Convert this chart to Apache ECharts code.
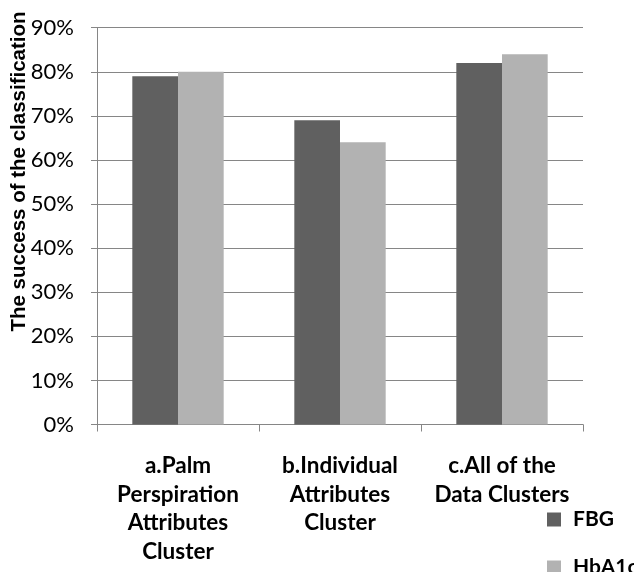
<!DOCTYPE html>
<html><head><meta charset="utf-8">
<script src="https://cdn.jsdelivr.net/npm/echarts@6/dist/echarts.min.js"></script>
<style>html,body{margin:0;padding:0;background:#fff}#c{width:634px;height:572px}</style>
</head><body><div id="c"></div>
<script>
const categories = ["a.Palm\nPerspiration\nAttributes\nCluster", "b.Individual\nAttributes\nCluster", "c.All of the\nData Clusters"];
const seriesNames = ["FBG", "HbA1c"];
const fbgValues = [79, 69, 82];
const hba1cValues = [80, 64, 84];
const yAxisTitle = "The success of the classification";

const chart = echarts.init(document.getElementById('c'));
const axisGray = '#868686';
const legendText = { fontFamily: 'Lato', fontWeight: 'bold', fontSize: 21, color: '#000', padding: [0,0,0,7] };
chart.setOption({
  animation: false,
  backgroundColor: '#fff',
  grid: { left: 97, right: 51, top: 27.7, bottom: 147.5, outerBoundsMode: 'none', containLabel: false },
  legend: [
    { orient: 'vertical', left: 547, top: 509, padding: 0, icon: 'rect', itemWidth: 14, itemHeight: 14,
      textStyle: legendText, data: [seriesNames[0]] },
    { orient: 'vertical', left: 547, top: 557, padding: 0, icon: 'rect', itemWidth: 14, itemHeight: 14,
      textStyle: legendText, data: [seriesNames[1]] }
  ],
  graphic: [{
    type: 'text', x: 9, y: 171.5, rotation: Math.PI / 2,
    style: { text: yAxisTitle, font: 'bold 20.5px "Liberation Sans"', fill: '#000', align: 'center', verticalAlign: 'top' }
  }],
  xAxis: {
    type: 'category', data: categories,
    axisLine: { lineStyle: { color: axisGray, width: 1 } },
    axisTick: { show: true, length: 7, lineStyle: { color: axisGray } },
    axisLabel: { interval: 0, margin: 27, fontFamily: 'Lato', fontWeight: 'bold', fontSize: 22.5, color: '#000', lineHeight: 28.5 }
  },
  yAxis: {
    type: 'value', min: 0, max: 90, interval: 10,
    axisLine: { show: true, lineStyle: { color: axisGray, width: 1 } },
    axisTick: { show: true, length: 6, lineStyle: { color: axisGray } },
    splitLine: { lineStyle: { color: axisGray, width: 1 } },
    axisLabel: { formatter: '{value}%', margin: 23, fontFamily: 'Lato', fontSize: 22, color: '#000' }
  },
  series: [
    { name: seriesNames[0], type: 'bar', data: fbgValues, barGap: '0%', barCategoryGap: '43.6%',
      itemStyle: { color: '#606060' } },
    { name: seriesNames[1], type: 'bar', data: hba1cValues, barGap: '0%', barCategoryGap: '43.6%',
      itemStyle: { color: '#b2b2b2' } }
  ]
});
</script></body></html>
